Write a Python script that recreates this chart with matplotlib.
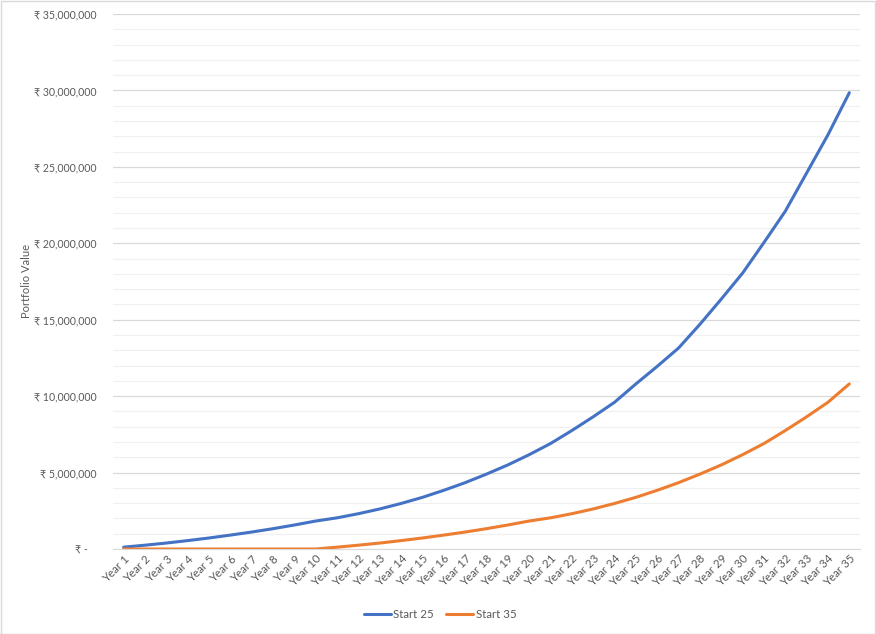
"""Portfolio value by year for two start ages, Excel-style line chart."""
import matplotlib
matplotlib.use("Agg")
import matplotlib.pyplot as plt
from matplotlib.patches import Rectangle
from matplotlib.ticker import FuncFormatter, MultipleLocator

years = [f"Year {i}" for i in range(1, 36)]
start_25 = [0.12, 0.25, 0.39, 0.55, 0.72, 0.91, 1.11, 1.33, 1.57, 1.83,
            2.04, 2.31, 2.62, 2.98, 3.38, 3.84, 4.34, 4.90, 5.50, 6.17,
            6.90, 7.75, 8.65, 9.60, 10.80, 11.95, 13.15, 14.70, 16.35, 18.05,
            20.05, 22.10, 24.60, 27.10, 29.85]
start_35 = [0, 0, 0, 0, 0, 0, 0, 0, 0, 0,
            0.12, 0.25, 0.39, 0.55, 0.72, 0.91, 1.11, 1.33, 1.57, 1.83,
            2.04, 2.31, 2.62, 2.98, 3.38, 3.84, 4.34, 4.90, 5.50, 6.17,
            6.90, 7.75, 8.65, 9.60, 10.80]
series_names = ["Start 25", "Start 35"]

BLUE, ORANGE = "#4472C4", "#ED7D31"
TEXT = "#595959"
FONT = ["Lato", "DejaVu Sans"]

plt.rcParams["font.family"] = FONT

fig = plt.figure(figsize=(8.76, 6.34), dpi=100)
W, H = 876, 634
ax = fig.add_axes([113/W, 1-549/H, (860-113)/W, (549-14)/H])

x = range(len(years))
ax.plot(x, [v*1e6 for v in start_25], color=BLUE, lw=2.2, label=series_names[0],
        solid_capstyle="round")
ax.plot(x, [v*1e6 for v in start_35], color=ORANGE, lw=2.2, label=series_names[1],
        solid_capstyle="round")

ax.set_xlim(-0.5, len(years)-0.5)
ax.set_ylim(0, 35e6)
ax.yaxis.set_major_locator(MultipleLocator(5e6))
ax.yaxis.set_minor_locator(MultipleLocator(1e6))


def rupee(value, _pos):
    if abs(value) < 1:
        return "\u20b9 -   "
    return f"\u20b9 {value:,.0f}"


ax.yaxis.set_major_formatter(FuncFormatter(rupee))
ax.grid(which="major", axis="y", color="#d9d9d9", lw=0.9)
ax.grid(which="minor", axis="y", color="#f0f0f0", lw=0.9)
ax.set_axisbelow(True)
for side in ("top", "right", "left"):
    ax.spines[side].set_visible(False)
ax.spines["bottom"].set_color("#d9d9d9")
ax.tick_params(axis="y", which="both", length=0, labelsize=7.6,
               labelcolor=TEXT, pad=12)
ax.tick_params(axis="x", length=0, labelsize=8.3, labelcolor=TEXT, pad=3)
ax.set_xticks(list(x))
ax.set_xticklabels(years, rotation=45, ha="right", va="top",
                   rotation_mode="anchor")
ax.set_ylabel("Portfolio Value", fontsize=8, color=TEXT)
ax.yaxis.set_label_coords(-(113-32)/747, 0.5)

ax.legend(loc="center", bbox_to_anchor=(440/W, 1-615/H),
          bbox_transform=fig.transFigure, ncol=2, frameon=False,
          fontsize=8.3, labelcolor=TEXT, handlelength=2.4, columnspacing=1.0,
          handletextpad=0.2)

fig.patches.append(Rectangle((0.5/W, 0.5/H), 1-1.5/W, 1-1.5/H,
                             transform=fig.transFigure, fill=False,
                             edgecolor="#d9d9d9", lw=1.0))
fig.savefig("out.png", dpi=100)
